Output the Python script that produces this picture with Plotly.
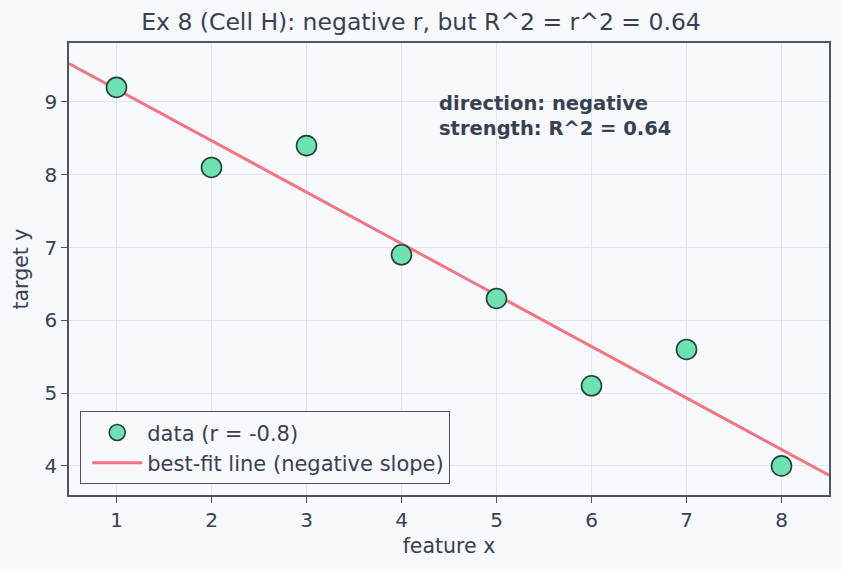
import numpy as np
import plotly.graph_objects as go

x_vals = [1, 2, 3, 4, 5, 6, 7, 8]
y_vals = [9.2, 8.1, 8.4, 6.9, 6.3, 5.1, 5.6, 4.0]
x_range = [0.5, 8.5]
y_range = [3.6, 9.81]

xa = np.array(x_vals, dtype=float)
ya = np.array(y_vals, dtype=float)
slope, intercept = np.polyfit(xa, ya, 1)
line_x = np.array(x_range)
line_y = slope * line_x + intercept

BG = "#f8f9fc"
TXT = "#374151"
AX = "#4b5563"
GRID = "#e1e4ec"
FONT = "DejaVu Sans"

fig = go.Figure()
fig.add_trace(go.Scatter(
    x=line_x, y=line_y, mode="lines",
    line=dict(color="#f27586", width=3),
    name="best-fit line (negative slope)",
))
fig.add_trace(go.Scatter(
    x=x_vals, y=y_vals, mode="markers",
    marker=dict(size=20, color="#6ee2b2", line=dict(color="#25403a", width=1.6)),
    name="data (r = -0.8)",
))

fig.update_layout(
    width=842, height=571,
    margin=dict(l=69, r=13, t=43, b=76),
    paper_bgcolor=BG, plot_bgcolor=BG,
    font=dict(family=FONT, size=20, color=TXT),
    title=dict(text="Ex 8 (Cell H): negative r, but R^2 = r^2 = 0.64",
               x=0.5, xanchor="center", y=1 - 22/571, yanchor="middle",
               font=dict(size=23.5, color=TXT)),
    showlegend=True,
    legend=dict(x=0.0145, y=0.024, xanchor="left", yanchor="bottom",
                bgcolor=BG, bordercolor=AX, borderwidth=1.2,
                traceorder="reversed", itemwidth=50, indentation=6,
                font=dict(size=21, color=TXT)),
    xaxis=dict(range=x_range, tickvals=x_vals, showgrid=True, gridcolor=GRID,
               showline=True, linecolor=AX, linewidth=1.5, mirror=True,
               ticks="outside", ticklen=6, tickcolor=AX, zeroline=False,
               title=dict(text="feature x", font=dict(size=20.5), standoff=8),
               tickfont=dict(size=20)),
    yaxis=dict(range=y_range, tickvals=[4, 5, 6, 7, 8, 9], showgrid=True, gridcolor=GRID,
               showline=True, linecolor=AX, linewidth=1.5, mirror=True,
               ticks="outside", ticklen=6, tickcolor=AX, zeroline=False,
               title=dict(text="target y", font=dict(size=20.5), standoff=10),
               tickfont=dict(size=20)),
)
fig.add_annotation(
    x=4.37, y=9.17, xref="x", yref="y", xanchor="left", yanchor="top",
    text="<b>direction: negative<br>strength: R^2 = 0.64</b>",
    showarrow=False, align="left",
    font=dict(size=19.5, color=TXT, family=FONT),
)

fig.write_html("out.html")
